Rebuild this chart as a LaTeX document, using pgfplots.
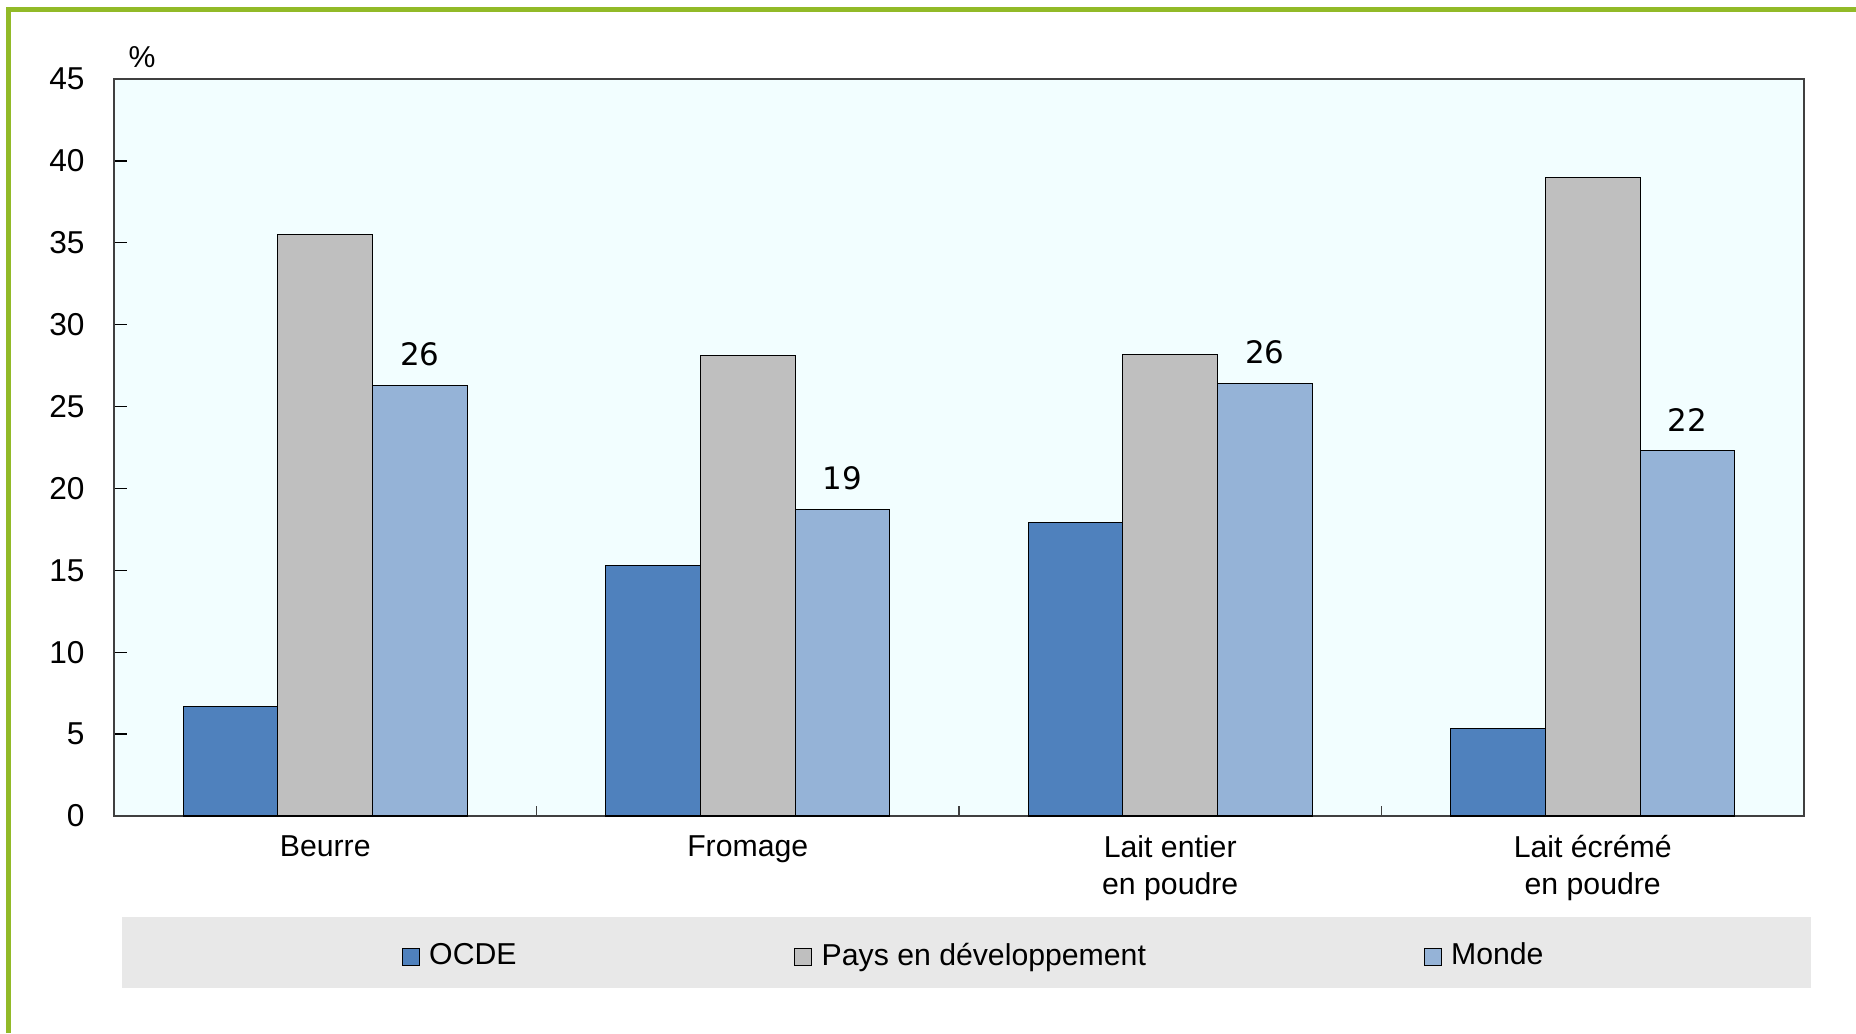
\documentclass[border=0pt]{standalone}
\usepackage{pgfplots}
\pgfplotsset{compat=1.18}
\usepackage{fontspec}
\setmainfont{Liberation Sans}
\newfontfamily\valfont{DejaVu Sans}

\definecolor{ocde}{RGB}{79,129,189}
\definecolor{pays}{RGB}{191,191,191}
\definecolor{monde}{RGB}{149,179,215}
\definecolor{plotbg}{RGB}{242,254,255}
\definecolor{legbg}{RGB}{232,232,232}
\definecolor{framegreen}{RGB}{146,186,40}

% 0 = Beurre, 1 = Fromage, 2 = Lait entier, 3 = Lait ecreme
\pgfplotstableread{
x  ocde  pays  monde
0  6.7   35.5  26.3
1  15.3  28.1  18.7
2  17.9  28.2  26.4
3  5.35  39.0  22.3
}\lait

\pgfplotsset{
  legsq/.style={legend image code/.code={
    \draw[##1, line width=0.3pt] (0mm,-0.85mm) rectangle (1.7mm,0.85mm);}},
}

\begin{document}
\begin{tikzpicture}
\useasboundingbox (0mm,0mm) rectangle (185.6mm,103.3mm);
\fill[white] (0mm,0mm) rectangle (185.6mm,103.3mm);
\draw[framegreen, line width=0.5mm] (0.85mm,0mm) -- (0.85mm,102.3mm) -- (185.6mm,102.3mm);
\fill[legbg] (12.2mm,4.5mm) rectangle (181.1mm,11.6mm);
\node[anchor=base west, inner sep=0pt, font=\fontsize{8.6}{10}\selectfont] at (12.8mm,96.55mm) {\%};

\begin{axis}[
  at={(11.4mm,21.7mm)}, anchor=south west,
  scale only axis, width=169mm, height=73.7mm,
  ybar=0pt, bar width=0.224,
  xmin=-0.5, xmax=3.5, ymin=0, ymax=45,
  axis background/.style={fill=plotbg},
  axis line style={draw=black!75, line width=0.45pt},
  xtick={0,1,2,3},
  xticklabels={Beurre, Fromage, {Lait entier\\en poudre}, {Lait écrémé\\en poudre}},
  xtick style={draw=none},
  extra x ticks={0.5,1.5,2.5},
  extra x tick labels={},
  extra x tick style={xtick style={draw=black!75, line width=0.5pt}, major tick length=1mm},
  xtick pos=bottom,
  xticklabel style={font=\fontsize{8.6}{10.6}\selectfont, align=center, yshift=-0.7mm},
  ytick={0,5,...,45},
  ytick pos=left, tick align=inside,
  ytick style={draw=black, line width=0.4pt},
  major tick length=1.3mm,
  yticklabel style={font=\fontsize{9}{10}\selectfont, xshift=-1.7mm},
  /pgf/number format/assume math mode=true,
  legend columns=3,
  legend style={at={(0.1698,-0.1907)}, anchor=west, fill=none, draw=none,
    inner sep=0pt, font=\fontsize{8.6}{10}\selectfont,
    /tikz/every odd column/.append style={column sep=0.25mm},
    /tikz/every even column/.append style={column sep=27.05mm}},
]
\addplot[fill=ocde, draw=black, line width=0.3pt, legsq] table[x=x, y=ocde] {\lait};
\addlegendentry{OCDE}
\addplot[fill=pays, draw=black, line width=0.3pt, legsq] table[x=x, y=pays] {\lait};
\addlegendentry{Pays en développement}
\addplot[fill=monde, draw=black, line width=0.3pt, legsq,
  nodes near coords={\pgfmathprintnumber[fixed,precision=0]{\pgfplotspointmeta}},
  every node near coord/.append style={font=\valfont\fontsize{8.8}{10}\selectfont, text=black, yshift=0.75mm}]
  table[x=x, y=monde] {\lait};
\addlegendentry{Monde}
\end{axis}
\end{tikzpicture}
\end{document}
